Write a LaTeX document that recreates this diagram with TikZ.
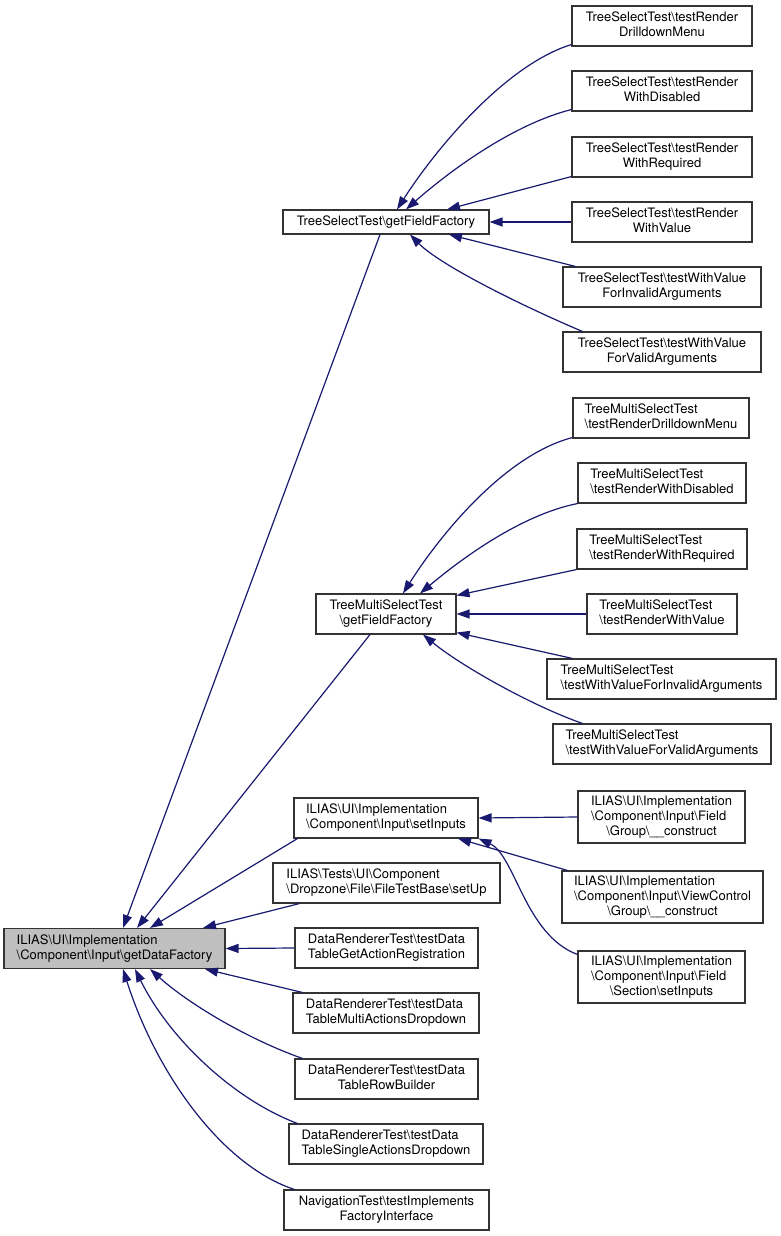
\documentclass[tikz,border=0pt]{standalone}
\usepackage{fontspec}
\setmainfont{TeX Gyre Heros}
\usetikzlibrary{arrows.meta}

\definecolor{depblue}{HTML}{191970}
\newcommand{\bs}{\textbackslash{}}
\newcommand{\twol}[2]{\begin{tabular}{@{}l@{}}#1\\\multicolumn{1}{@{}c@{}}{#2}\end{tabular}}
\newcommand{\threel}[3]{\begin{tabular}{@{}l@{}}#1\\#2\\\multicolumn{1}{@{}c@{}}{#3}\end{tabular}}

\tikzset{
  fnbox/.style={draw=black!80, line width=1.1pt, fill=white, inner xsep=2pt, inner ysep=0pt,
    minimum height=40pt, font=\fontsize{13}{15}\selectfont},
  rootbox/.style={fnbox, fill=black!25},
  dep/.style={depblue, line width=1.2pt, {Triangle[length=13pt,width=9pt]}-}
}

\begin{document}
\begin{tikzpicture}[x=1pt,y=-1pt]
	\useasboundingbox[fill=white] (0,0) rectangle (781,1236);

	% the one that is called
	\node[rootbox, minimum width=221pt] (root) at (114.5,948.5) {\twol{ILIAS\bs UI\bs Implementation}{\bs Component\bs Input\bs getDataFactory}};

	% middle column
	\node[fnbox, minimum width=206pt, minimum height=24pt] (tsf) at (386,222) {TreeSelectTest\bs getFieldFactory};
	\node[fnbox, minimum width=140pt] (tmf) at (386,614) {\twol{TreeMultiSelectTest}{\bs getFieldFactory}};
	\node[fnbox, minimum width=184pt] (set) at (386,818) {\twol{ILIAS\bs UI\bs Implementation}{\bs Component\bs Input\bs setInputs}};
	\node[fnbox, minimum width=227pt] (ftb) at (386.5,883) {\twol{ILIAS\bs Tests\bs UI\bs Component}{\bs Dropzone\bs File\bs FileTestBase\bs setUp}};
	\node[fnbox, minimum width=183pt] (dr1) at (386.5,948) {\twol{DataRendererTest\bs testData}{TableGetActionRegistration}};
	\node[fnbox, minimum width=186pt] (dr2) at (386,1013) {\twol{DataRendererTest\bs testData}{TableMultiActionsDropdown}};
	\node[fnbox, minimum width=183pt] (dr3) at (386.5,1079) {\twol{DataRendererTest\bs testData}{TableRowBuilder}};
	\node[fnbox, minimum width=194pt] (dr4) at (386,1144) {\twol{DataRendererTest\bs testData}{TableSingleActionsDropdown}};
	\node[fnbox, minimum width=205pt] (nav) at (386.5,1210) {\twol{NavigationTest\bs testImplements}{FactoryInterface}};

	% right column, TreeSelectTest
	\node[fnbox, minimum width=180pt] (ts1) at (662,26) {\twol{TreeSelectTest\bs testRender}{DrilldownMenu}};
	\node[fnbox, minimum width=180pt] (ts2) at (662,91) {\twol{TreeSelectTest\bs testRender}{WithDisabled}};
	\node[fnbox, minimum width=180pt] (ts3) at (662,157) {\twol{TreeSelectTest\bs testRender}{WithRequired}};
	\node[fnbox, minimum width=180pt] (ts4) at (662,222) {\twol{TreeSelectTest\bs testRender}{WithValue}};
	\node[fnbox, minimum width=198pt] (ts5) at (662,287) {\twol{TreeSelectTest\bs testWithValue}{ForInvalidArguments}};
	\node[fnbox, minimum width=198pt] (ts6) at (662,352) {\twol{TreeSelectTest\bs testWithValue}{ForValidArguments}};

	% right column, TreeMultiSelectTest
	\node[fnbox, minimum width=176pt] (tm1) at (661,418) {\twol{TreeMultiSelectTest}{\bs testRenderDrilldownMenu}};
	\node[fnbox, minimum width=168pt] (tm2) at (662,483) {\twol{TreeMultiSelectTest}{\bs testRenderWithDisabled}};
	\node[fnbox, minimum width=170pt] (tm3) at (662,549) {\twol{TreeMultiSelectTest}{\bs testRenderWithRequired}};
	\node[fnbox, minimum width=150pt] (tm4) at (662,614) {\twol{TreeMultiSelectTest}{\bs testRenderWithValue}};
	\node[fnbox, minimum width=229pt] (tm5) at (661.5,679) {\twol{TreeMultiSelectTest}{\bs testWithValueForInvalidArguments}};
	\node[fnbox, minimum width=218pt] (tm6) at (662,744) {\twol{TreeMultiSelectTest}{\bs testWithValueForValidArguments}};

	% right column, setInputs
	\node[fnbox, minimum width=167pt, minimum height=52pt] (fg) at (661.5,817) {\threel{ILIAS\bs UI\bs Implementation}{\bs Component\bs Input\bs Field}{\bs Group\bs \_\_construct}};
	\node[fnbox, minimum width=201pt, minimum height=52pt] (vc) at (662.5,897) {\threel{ILIAS\bs UI\bs Implementation}{\bs Component\bs Input\bs ViewControl}{\bs Group\bs \_\_construct}};
	\node[fnbox, minimum width=167pt, minimum height=52pt] (sec) at (661.5,977) {\threel{ILIAS\bs UI\bs Implementation}{\bs Component\bs Input\bs Field}{\bs Section\bs setInputs}};

	% callers of getDataFactory
	\draw[dep] ([xshift=8.5pt]root.north) -- ([xshift=-6pt]tsf.south);
	\draw[dep] ([xshift=22.5pt]root.north) -- ([xshift=-16pt]tmf.south);
	\draw[dep] ([xshift=35.5pt]root.north) -- ([xshift=4pt]set.south west);
	\draw[dep] ([xshift=88.5pt]root.north) -- ([xshift=27pt]ftb.south west);
	\draw[dep] (root.east) -- (dr1.west);
	\draw[dep] ([xshift=90.5pt]root.south) -- ([xshift=10pt]dr2.north west);
	\draw[dep] ([xshift=35.5pt]root.south) .. controls (190,1005) and (250,1040) .. ([xshift=8pt]dr3.north west);
	\draw[dep] ([xshift=20.5pt]root.south) .. controls (170,1040) and (235,1100) .. ([xshift=9pt]dr4.north west);
	\draw[dep] ([xshift=8.5pt]root.south) .. controls (155,1070) and (220,1165) .. ([xshift=11pt]nav.north west);

	% TreeSelectTest
	\draw[dep] ([xshift=11pt]tsf.north) .. controls (435,150) and (505,65) .. ([yshift=2pt]ts1.south west);
	\draw[dep] ([xshift=20pt]tsf.north) .. controls (445,175) and (510,125) .. ([yshift=2pt]ts2.south west);
	\draw[dep] ([xshift=61pt]tsf.north) -- ([yshift=1pt]ts3.south west);
	\draw[dep] (tsf.east) -- (ts4.west);
	\draw[dep] ([xshift=63pt]tsf.south) -- ([xshift=13pt]ts5.north west);
	\draw[dep] ([xshift=24pt]tsf.south) .. controls (440,265) and (520,305) .. ([xshift=20pt]ts6.north west);

	% TreeMultiSelectTest
	\draw[dep] ([xshift=17pt]tmf.north) .. controls (440,535) and (505,455) .. ([yshift=1pt]tm1.south west);
	\draw[dep] ([xshift=34pt]tmf.north) .. controls (460,560) and (520,515) .. (tm2.south west);
	\draw[dep] ([yshift=-2pt]tmf.north east) -- (tm3.south west);
	\draw[dep] (tmf.east) -- (tm4.west);
	\draw[dep] ([yshift=2pt]tmf.south east) -- ([xshift=26pt]tm5.north west);
	\draw[dep] ([xshift=37pt]tmf.south) .. controls (460,665) and (530,705) .. ([xshift=30pt]tm6.north west);

	% setInputs
	\draw[dep] (set.east) -- (fg.west);
	\draw[dep] ([xshift=72pt]set.south) -- ([xshift=6pt]vc.north west);
	\draw[dep] (set.south east) .. controls (515,855) and (525,935) .. ([yshift=-4pt]sec.north west);
\end{tikzpicture}
\end{document}
